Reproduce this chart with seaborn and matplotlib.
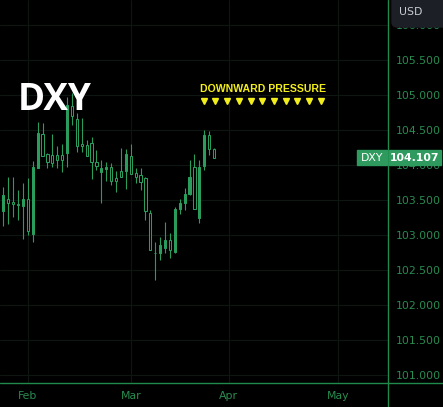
import numpy as np
import pandas as pd
import seaborn as sns
import matplotlib.pyplot as plt
from matplotlib.patches import Rectangle, FancyBboxPatch
from matplotlib.lines import Line2D

# daily DXY candles
opens = [103.347, 103.514, 103.471, 103.443, 103.414, 103.514, 103.014, 103.961, 104.443, 104.157,
         104.143, 104.143, 104.143, 104.176, 104.843, 104.657, 104.300, 104.286, 104.314, 104.043,
         103.904, 103.947, 103.971, 103.814, 103.914, 103.919, 104.129, 103.886, 103.857, 103.814,
         103.314, 102.743, 102.743, 102.819, 102.929, 102.761, 103.371, 103.457, 103.586, 103.971,
         103.243, 103.986, 104.429, 104.229]
highs = [103.681, 103.829, 103.829, 103.643, 103.747, 103.814, 104.057, 104.614, 104.600, 104.176,
         104.443, 104.271, 104.300, 104.976, 105.029, 104.743, 104.671, 104.357, 104.404, 104.214,
         104.071, 104.047, 104.029, 103.919, 104.243, 104.229, 104.300, 103.957, 103.961, 103.833,
         103.357, 102.900, 102.971, 103.186, 103.029, 103.404, 103.514, 103.671, 104.071, 104.157,
         104.071, 104.500, 104.490, 104.243]
lows = [103.133, 103.157, 103.257, 103.214, 102.947, 103.000, 102.904, 103.961, 104.129, 103.957,
        103.971, 103.957, 103.904, 103.976, 104.571, 104.190, 104.190, 104.129, 103.800, 103.929,
        103.457, 103.776, 103.714, 103.619, 103.833, 103.657, 103.871, 103.743, 103.643, 103.214,
        102.786, 102.357, 102.643, 102.747, 102.671, 102.747, 103.300, 103.357, 103.571, 103.371,
        103.176, 103.929, 104.143, 104.114]
closes = [103.571, 103.461, 103.443, 103.429, 103.514, 103.057, 103.971, 104.457, 104.129, 104.047,
          104.029, 104.071, 104.071, 104.857, 104.704, 104.276, 104.276, 104.129, 104.047, 103.986,
          103.957, 103.971, 103.776, 103.776, 103.833, 104.157, 103.871, 103.833, 103.761, 103.347,
          102.786, 102.736, 102.857, 102.929, 102.786, 103.371, 103.457, 103.586, 103.829, 103.371,
          103.971, 104.429, 104.229, 104.107]

month_pos = [5.0, 26.0, 46.0, 68.3]
month_labels = ['Feb', 'Mar', 'Apr', 'May']
price_ticks = [101.0, 101.5, 102.0, 102.5, 103.0, 103.5, 104.0, 104.5, 105.0, 105.5, 106.0]
last_price = 104.107

green = '#2a9d5c'
axis_green = '#1f8a4c'
text_green = '#298c50'
bg = '#000000'

df = pd.DataFrame({'open': opens, 'high': highs, 'low': lows, 'close': closes})
df['x'] = np.arange(len(df))
df['up'] = df['close'] >= df['open']
df['bottom'] = df[['open', 'close']].min(axis=1)
df['height'] = (df['close'] - df['open']).abs().clip(lower=0.006)

sns.set_theme(style='dark', rc={'figure.facecolor': bg, 'axes.facecolor': bg,
                                'grid.color': '#0d1611', 'grid.linewidth': 0.8})

W, H = 443, 407
fig = plt.figure(figsize=(W / 100, H / 100), dpi=100)
ax = fig.add_axes([0, 24 / H, 388 / W, 383 / H])

# wicks then bodies (hollow bodies are black inside)
ax.vlines(df['x'], df['low'], df['high'], color=green, linewidth=0.8, zorder=2)
ax.bar(df['x'], df['height'], bottom=df['bottom'], width=0.45,
       color=[green if u else bg for u in df['up']], edgecolor=green, linewidth=0.75, zorder=3)

ax.set_xlim(-0.673, 78.5)
ax.set_ylim(100.886, 106.357)
ax.yaxis.tick_right()
ax.set_yticks(price_ticks, [f'{p:.3f}' for p in price_ticks])
ax.set_xticks(month_pos, month_labels)
ax.grid(True)
ax.tick_params(axis='both', colors=text_green, labelsize=7.8, length=0)
ax.tick_params(axis='y', pad=5.8)
ax.tick_params(axis='x', pad=6)
sns.despine(ax=ax, left=True, bottom=True, right=True, top=True)


def fx(px):
    return px / W


def fy(py):
    return 1 - py / H


# pane separators
fig.add_artist(Line2D([fx(388), fx(388)], [0, 1], color=axis_green, linewidth=1))
fig.add_artist(Line2D([0, 1], [fy(383), fy(383)], color=axis_green, linewidth=1))

fig.text(fx(18), fy(100), 'DXY', color='white', fontsize=26.5, fontweight='bold',
         family='Open Sans', ha='left', va='center')

fig.text(fx(200), fy(88.5), 'DOWNWARD PRESSURE', color='#f2ee1c', fontsize=7.6,
         fontweight='bold', family='Liberation Sans', ha='left', va='center')
tri_x = [fx(203.7 + 11.7 * k) for k in range(11)]
fig.add_artist(Line2D(tri_x, [fy(100.5)] * 11, linestyle='none', marker='v',
                      markersize=5, color='#f2ee1c'))

# last price badges
ypx = (106.357 - last_price) * 70
fig.add_artist(Rectangle((fx(357), fy(ypx + 7.5)), fx(30), 15 / H, color='#2e9a5e', zorder=5))
fig.text(fx(372), fy(ypx), 'DXY', color='white', fontsize=7.8, ha='center', va='center', zorder=6)
fig.add_artist(Rectangle((fx(389), fy(ypx + 7.5)), fx(52), 15 / H, color='#2e9a5e', zorder=5))
fig.text(fx(415), fy(ypx), f'{last_price:.3f}', color='white', fontsize=7.8, fontweight='bold',
         ha='center', va='center', zorder=6)

# currency box top right
fig.add_artist(FancyBboxPatch((fx(392), fy(27)), fx(60), 34 / H, boxstyle='round,pad=0,rounding_size=0.012',
                              color='#1c1f26', zorder=5))
fig.text(fx(411), fy(12), 'USD', color='#c8ccd4', fontsize=7.8, ha='center', va='center', zorder=6)

fig.savefig('out.png', dpi=100, facecolor=bg)
